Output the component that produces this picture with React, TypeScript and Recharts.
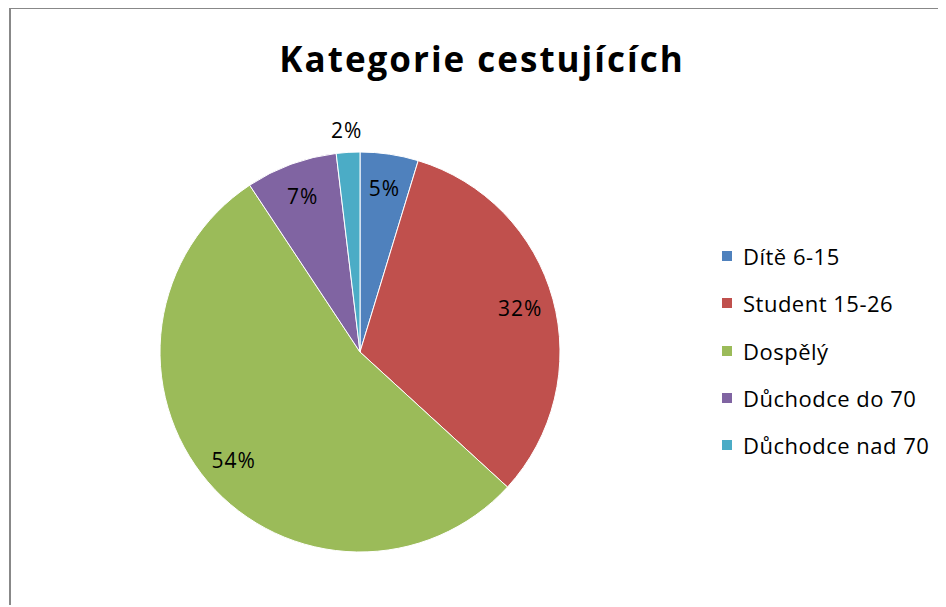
import { PieChart, Pie, Cell, Legend } from "recharts";

const categories = ["Dítě 6-15", "Student 15-26", "Dospělý", "Důchodce do 70", "Důchodce nad 70"];
const shares = [4.7, 32.1, 53.9, 7.4, 1.9];
const colors = ["#4F81BD", "#C0504D", "#9BBB59", "#8064A2", "#4BACC6"];

const data = categories.map((name, i) => ({ name, value: shares[i] }));

const RADIAN = Math.PI / 180;
const FONT = "'Open Sans', 'Noto Sans', sans-serif";

const renderLabel = (props: any) => {
    const { cx, cy, midAngle, outerRadius, percent, index } = props;
    // the small last slice gets its label outside the pie
    const r = index === 4 ? outerRadius + 22 : outerRadius * 0.83;
    const x = cx + r * Math.cos(-midAngle * RADIAN);
    const y = cy + r * Math.sin(-midAngle * RADIAN);
    return (
        <text
            x={x}
            y={y}
            fill="#000"
            fontSize={21}
            letterSpacing={1}
            fontFamily={FONT}
            textAnchor="middle"
            dominantBaseline="central"
        >
            {`${Math.round(percent * 100)}%`}
        </text>
    );
};

const renderLegend = () => (
    <div style={{ fontFamily: FONT, fontSize: 22, letterSpacing: 0.5, color: "#000" }}>
        {data.map((d, i) => (
            <div key={d.name} style={{ display: "flex", alignItems: "center", height: 47.25 }}>
                <span style={{ display: "inline-block", width: 10, height: 10, background: colors[i], marginRight: 11 }} />
                <span>{d.name}</span>
            </div>
        ))}
    </div>
);

export default function App() {
    return (
        <div style={{ position: "relative", width: 938, height: 599 }}>
            <div
                style={{
                    position: "absolute",
                    left: 1,
                    top: -1,
                    width: 935,
                    height: 598,
                    borderLeft: "2px solid #888",
                    borderTop: "2px solid #888",
                    boxSizing: "border-box",
                }}
            />
            <div
                style={{
                    position: "absolute",
                    left: 0,
                    top: 29,
                    width: 948,
                    textAlign: "center",
                    fontFamily: FONT,
                    fontWeight: 700,
                    fontSize: 35,
                    letterSpacing: 2,
                    lineHeight: "44px",
                    color: "#000",
                }}
            >
                Kategorie cestujících
            </div>
            <PieChart width={938} height={599} style={{ position: "absolute", left: 0, top: 0 }}>
                <Pie
                    data={data}
                    dataKey="value"
                    nameKey="name"
                    cx={347}
                    cy={339}
                    outerRadius={200}
                    startAngle={90}
                    endAngle={-270}
                    stroke="#fff"
                    strokeWidth={1}
                    label={renderLabel}
                    labelLine={false}
                    isAnimationActive={false}
                >
                    {data.map((d, i) => (
                        <Cell key={d.name} fill={colors[i]} />
                    ))}
                </Pie>
                <Legend
                    content={renderLegend}
                    layout="vertical"
                    wrapperStyle={{ position: "absolute", left: 714, top: 224.5, width: 230 }}
                />
            </PieChart>
        </div>
    );
}
